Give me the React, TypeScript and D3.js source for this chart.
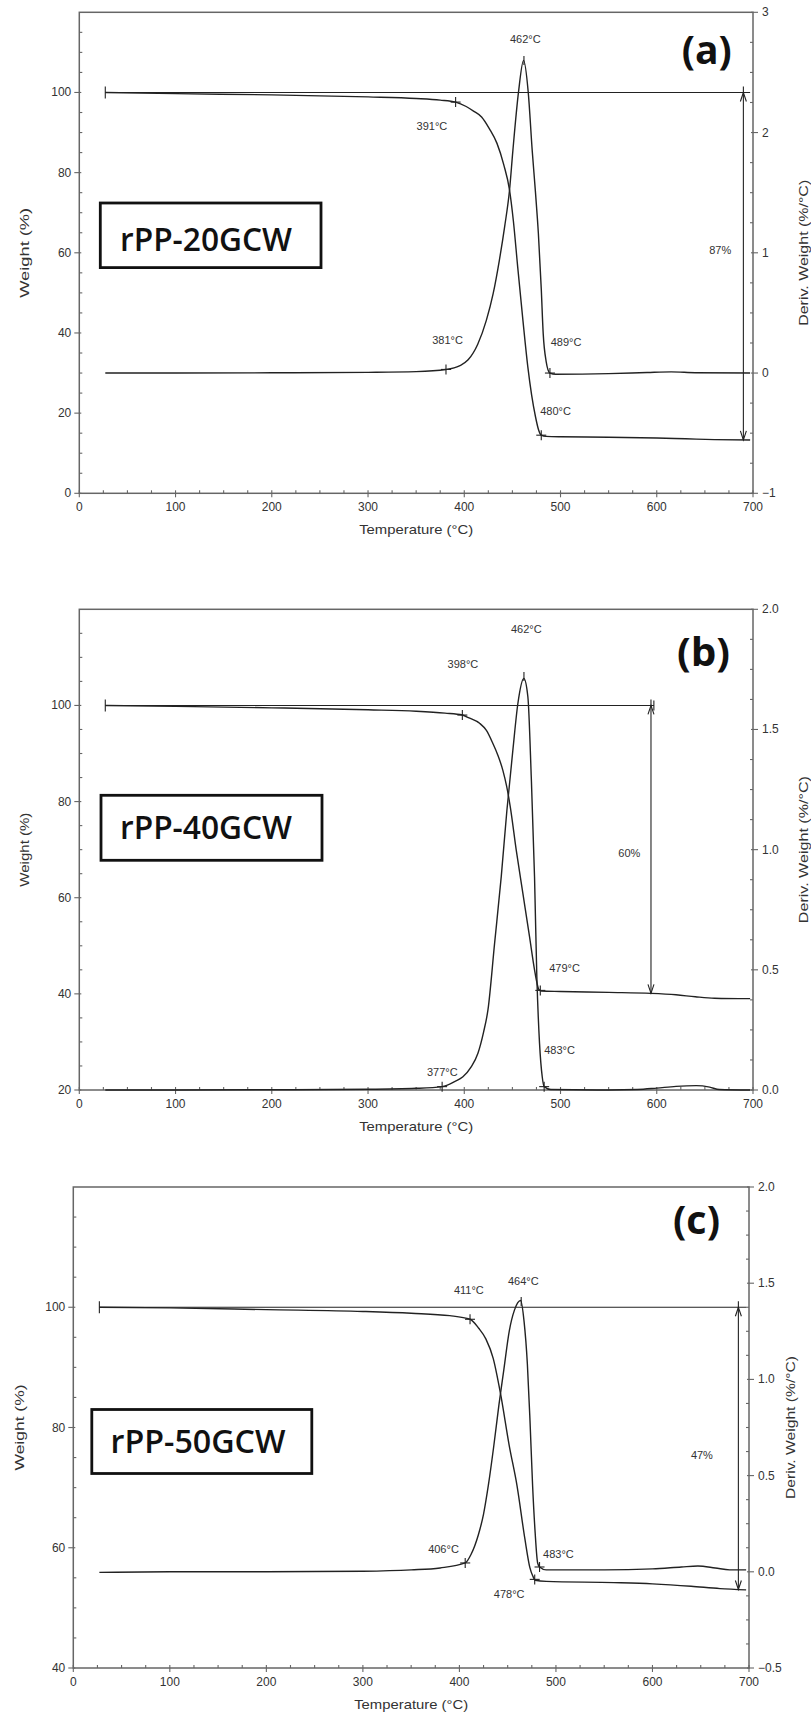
import React from "react";
import * as d3 from "d3";

type Pt = [number, number];

// temperature axis (°C)
const tempTicks = [0, 100, 200, 300, 400, 500, 600, 700];

// ---- (a) rPP-20GCW ----
const tgA: Pt[] = [
  [27, 100], [100, 99.7], [200, 99.4], [300, 98.9], [350, 98.5], [375, 98.1], [391, 97.6],
  [402, 96.5], [410, 95.3], [418, 93.9], [426, 91], [434, 87.3], [441, 82], [447, 75.7],
  [451, 68], [455.5, 56.5], [461, 43], [466, 31.6], [470, 24.5], [474, 19.1], [477, 16],
  [480, 14.5], [485, 14.2], [500, 14.1], [550, 14.0], [600, 13.8], [630, 13.6], [660, 13.4], [697, 13.3],
];
const dtgA: Pt[] = [
  [27, 0], [100, 0], [200, 0.002], [300, 0.006], [350, 0.012], [381, 0.03], [395, 0.06],
  [404, 0.11], [414, 0.24], [423, 0.44], [430, 0.66], [436.5, 0.94], [442, 1.22], [447, 1.52],
  [450.5, 1.85], [456.4, 2.34], [461.6, 2.6], [466.4, 2.34], [470.6, 1.85], [474, 1.5],
  [477, 1.16], [480, 0.7], [482, 0.33], [485, 0.1], [489, 0], [495, -0.01], [550, -0.005],
  [590, 0.005], [615, 0.01], [640, 0.003], [697, 0],
];
const tgMarksA = [391, 480];
const dtgMarksA = [381, 489];
const labelsA: [string, number, number][] = [
  ["462°C", 463.4, 113.3], ["391°C", 366.4, 91.6], ["381°C", 382.6, 38.2],
  ["489°C", 505.7, 37.8], ["480°C", 494.9, 20.6], ["87%", 666, 60.7],
];

// ---- (b) rPP-40GCW ----
const tgB: Pt[] = [
  [27, 100], [100, 99.8], [200, 99.5], [300, 99.1], [350, 98.8], [380, 98.4], [398, 98.0],
  [405, 97.4], [415.9, 96.3], [423, 94.8], [429.7, 92.1], [435, 89.6], [440.1, 86.5],
  [444, 83.2], [447.8, 78.9], [454, 69.9], [460.9, 60.9], [467.8, 51.9], [473, 45],
  [475.5, 42.3], [477.5, 40.9], [480, 40.6], [500, 40.5], [550, 40.3], [594, 40.1],
  [620, 39.8], [640, 39.4], [660, 39.1], [697, 39.0],
];
const dtgB: Pt[] = [
  [27, 0], [100, 0], [200, 0.001], [300, 0.003], [350, 0.007], [377, 0.014], [390, 0.035],
  [398.6, 0.055], [407, 0.095], [414.2, 0.153], [420, 0.24], [424.6, 0.333], [431.5, 0.61],
  [438.4, 0.887], [444.3, 1.164], [450.5, 1.414], [455.7, 1.608], [461.9, 1.712],
  [466.1, 1.635], [469.6, 1.303], [473, 0.887], [475.4, 0.471], [478.2, 0.194], [481, 0.055],
  [483, 0.014], [490, 0.002], [550, 0], [580, 0.002], [600, 0.008], [620, 0.015],
  [641, 0.018], [655, 0.012], [665, 0.002], [697, 0],
];
const tgMarksB = [398, 479];
const dtgMarksB = [377, 483];
const labelsB: [string, number, number][] = [
  ["462°C", 464.4, 115.9], ["398°C", 398.6, 108.6], ["479°C", 504.2, 45.3],
  ["483°C", 499, 28.3], ["377°C", 377.2, 23.8], ["60%", 571.5, 69.2],
];

// ---- (c) rPP-50GCW ----
const tgC: Pt[] = [
  [27, 100], [100, 99.9], [200, 99.6], [300, 99.3], [350, 99.0], [390, 98.6], [411, 98.0],
  [420, 96.5], [427.5, 94.7], [435, 91.5], [442.5, 85.7], [451.6, 77], [459.7, 70.3],
  [467.8, 61.5], [473, 56.7], [476, 55.3], [478.5, 54.6], [490, 54.4], [560, 54.2],
  [600, 54.0], [640, 53.6], [670, 53.2], [697, 53.0],
];
const dtgC: Pt[] = [
  [27, -0.003], [100, 0], [200, 0], [300, 0.003], [350, 0.01], [380, 0.02], [406, 0.046],
  [412, 0.09], [419.5, 0.19], [425, 0.3], [430, 0.45], [435.5, 0.65], [441, 0.87],
  [446, 1.05], [451.6, 1.25], [457, 1.36], [463.4, 1.41], [467, 1.3], [470.4, 1.08],
  [473, 0.8], [475.8, 0.45], [478.5, 0.2], [481, 0.047], [483, 0.025], [490, 0.01],
  [550, 0.01], [600, 0.015], [630, 0.025], [647, 0.03], [665, 0.02], [680, 0.01], [697, 0.01],
];
const tgMarksC = [411, 478];
const dtgMarksC = [406, 483];
const labelsC: [string, number, number][] = [
  ["411°C", 409.8, 102.8], ["464°C", 466.2, 104.3], ["406°C", 383.5, 59.8],
  ["483°C", 502.6, 58.9], ["478°C", 451.6, 52.3], ["47%", 651.2, 75.5],
];

const sans = "'Liberation Sans', Arial, sans-serif";
const boxFont = "'Open Sans', 'Noto Sans', sans-serif";
const ink = "#222";
const axisInk = "#666";

const interp = (pts: Pt[], t: number) => {
  for (let i = 1; i < pts.length; i++) {
    if (t <= pts[i][0]) {
      const [x0, y0] = pts[i - 1];
      const [x1, y1] = pts[i];
      return y0 + ((t - x0) / (x1 - x0)) * (y1 - y0);
    }
  }
  return pts[pts.length - 1][1];
};

const panels = [
  {
    id: "a", name: "rPP-20GCW", letter: "(a)",
    tg: tgA, dtg: dtgA, tgMarks: tgMarksA, dtgMarks: dtgMarksA, peak: 462, labels: labelsA,
    left: [0, 120], leftTicks: [0, 20, 40, 60, 80, 100],
    right: [-1, 3], rightStep: 1, rightFmt: d3.format("d"),
    lineEnd: 697, arrowT: 690, endTick: false,
    frame: { x0: 79.3, x1: 753, top: 12.3, bottom: 493.3 },
    box: { x: 100.3, y: 203, w: 220.7, h: 64.6, tx: 120, ty: 251, tl: 172 },
    let: { x: 681.7, y: 64, w: 50 },
    titles: { wx: 24, wl: 90, dx: 803, dl: 146 },
  },
  {
    id: "b", name: "rPP-40GCW", letter: "(b)",
    tg: tgB, dtg: dtgB, tgMarks: tgMarksB, dtgMarks: dtgMarksB, peak: 462, labels: labelsB,
    left: [20, 120], leftTicks: [20, 40, 60, 80, 100],
    right: [0, 2], rightStep: 0.5, rightFmt: d3.format(".1f"),
    lineEnd: 597, arrowT: 594, endTick: true,
    frame: { x0: 79.3, x1: 753, top: 609.3, bottom: 1090 },
    box: { x: 101, y: 795.3, w: 221, h: 65, tx: 120, ty: 839, tl: 172 },
    let: { x: 677, y: 665.5, w: 53 },
    titles: { wx: 24, wl: 74, dx: 803, dl: 147 },
  },
  {
    id: "c", name: "rPP-50GCW", letter: "(c)",
    tg: tgC, dtg: dtgC, tgMarks: tgMarksC, dtgMarks: dtgMarksC, peak: 464, labels: labelsC,
    left: [40, 120], leftTicks: [40, 60, 80, 100],
    right: [-0.5, 2], rightStep: 0.5, rightFmt: d3.format(".1f"),
    lineEnd: 697, arrowT: 689, endTick: false,
    frame: { x0: 73.3, x1: 749, top: 1187, bottom: 1668 },
    box: { x: 91.8, y: 1409.5, w: 220, h: 64, tx: 110.5, ty: 1453, tl: 175 },
    let: { x: 673, y: 1234, w: 47 },
    titles: { wx: 19, wl: 86, dx: 790, dl: 143 },
  },
];

function Plus({ x, y, s = 5 }: { x: number; y: number; s?: number }) {
  return (
    <g stroke={ink} strokeWidth={1.1}>
      <line x1={x - s} x2={x + s} y1={y} y2={y} />
      <line x1={x} x2={x} y1={y - s} y2={y + s} />
    </g>
  );
}

function Panel({ p }: { p: (typeof panels)[number] }) {
  const f = p.frame;
  const x = d3.scaleLinear().domain([0, 700]).range([f.x0, f.x1]);
  const yL = d3.scaleLinear().domain(p.left).range([f.bottom, f.top]);
  const yR = d3.scaleLinear().domain(p.right).range([f.bottom, f.top]);
  const tgLine = d3.line<Pt>().x((d) => x(d[0])).y((d) => yL(d[1])).curve(d3.curveMonotoneX);
  const dtgLine = d3.line<Pt>().x((d) => x(d[0])).y((d) => yR(d[1])).curve(d3.curveMonotoneX);

  const minorX = d3.range(0, 701, 25).filter((v) => v % 100 !== 0);
  const nL = Math.round((p.left[1] - p.left[0]) / 5);
  const minorL = d3.range(nL + 1).filter((i) => i % 4 !== 0).map((i) => p.left[0] + i * 5);
  const rStep = p.rightStep / 4;
  const nR = Math.round((p.right[1] - p.right[0]) / rStep);
  const allR = d3.range(nR + 1).map((i) => ({ v: p.right[0] + i * rStep, major: i % 4 === 0 }));

  const y100 = yL(100);
  const xa = x(p.arrowT);
  const yEnd = yL(interp(p.tg, p.arrowT));
  const cy = (f.top + f.bottom) / 2;

  return (
    <g>
      {/* frame */}
      <rect x={f.x0} y={f.top} width={f.x1 - f.x0} height={f.bottom - f.top} fill="none" stroke={axisInk} strokeWidth={1.5} />

      {/* ticks */}
      <g stroke={axisInk} strokeWidth={1.1}>
        {tempTicks.map((t) => (
          <line key={"xt" + t} x1={x(t)} x2={x(t)} y1={f.bottom - 3} y2={f.bottom + 4} />
        ))}
        {minorX.map((t) => (
          <line key={"xm" + t} x1={x(t)} x2={x(t)} y1={f.bottom - 3} y2={f.bottom} />
        ))}
        {p.leftTicks.map((v) => (
          <line key={"lt" + v} x1={f.x0 - 5} x2={f.x0 + 2} y1={yL(v)} y2={yL(v)} />
        ))}
        {minorL.map((v) => (
          <line key={"lm" + v} x1={f.x0} x2={f.x0 + 3} y1={yL(v)} y2={yL(v)} />
        ))}
        {allR.map((r) => (
          <line key={"r" + r.v} x1={r.major ? f.x1 - 2 : f.x1 - 3} x2={r.major ? f.x1 + 5 : f.x1} y1={yR(r.v)} y2={yR(r.v)} />
        ))}
      </g>

      <g fontFamily={sans} fontSize={12} fill="#333">
        {tempTicks.map((t) => (
          <text key={"xl" + t} x={x(t)} y={f.bottom + 17.5} textAnchor="middle">{t}</text>
        ))}
        {p.leftTicks.map((v) => (
          <text key={"ll" + v} x={f.x0 - 8} y={yL(v)} textAnchor="end" dominantBaseline="central">{v}</text>
        ))}
        {allR.filter((r) => r.major).map((r) => (
          <text key={"rl" + r.v} x={f.x1 + 9} y={yR(r.v)} dominantBaseline="central">{p.rightFmt(r.v)}</text>
        ))}
      </g>

      {/* axis titles */}
      <g fontFamily={sans} fontSize={13.5} fill="#333">
        <text
          x={(f.x0 + f.x1) / 2}
          y={f.bottom + 41}
          textAnchor="middle"
          textLength={114}
          lengthAdjust="spacingAndGlyphs"
        >
          Temperature (°C)
        </text>
        <text
          transform={`translate(${p.titles.wx},${cy}) rotate(-90)`}
          textAnchor="middle"
          dominantBaseline="central"
          textLength={p.titles.wl}
          lengthAdjust="spacingAndGlyphs"
        >
          Weight (%)
        </text>
        <text
          transform={`translate(${p.titles.dx},${cy}) rotate(-90)`}
          textAnchor="middle"
          dominantBaseline="central"
          textLength={p.titles.dl}
          lengthAdjust="spacingAndGlyphs"
        >
          Deriv. Weight (%/°C)
        </text>
      </g>

      {/* 100 % reference line and mass-loss arrow */}
      <g stroke={ink} strokeWidth={1.1} fill="none">
        <line x1={x(27)} x2={x(p.lineEnd)} y1={y100} y2={y100} />
        <line x1={x(27)} x2={x(27)} y1={y100 - 6} y2={y100 + 6} />
        {p.endTick && <line x1={x(p.lineEnd)} x2={x(p.lineEnd)} y1={y100 - 5} y2={y100 + 5} />}
        <line x1={xa} x2={xa} y1={y100 - 6} y2={yEnd} />
        <path d={`M${xa - 3},${y100 + 9} L${xa},${y100} L${xa + 3},${y100 + 9}`} />
        <path d={`M${xa - 3},${yEnd - 9} L${xa},${yEnd} L${xa + 3},${yEnd - 9}`} />
      </g>

      {/* curves */}
      <path d={tgLine(p.tg) ?? ""} fill="none" stroke={ink} strokeWidth={1.4} />
      <path d={dtgLine(p.dtg) ?? ""} fill="none" stroke={ink} strokeWidth={1.4} />

      {p.tgMarks.map((t) => (
        <Plus key={"tm" + t} x={x(t)} y={yL(interp(p.tg, t))} />
      ))}
      {p.dtgMarks.map((t) => (
        <Plus key={"dm" + t} x={x(t)} y={yR(interp(p.dtg, t))} />
      ))}
      <line
        x1={x(p.peak)} x2={x(p.peak)}
        y1={yR(interp(p.dtg, p.peak)) - 7} y2={yR(interp(p.dtg, p.peak)) + 2}
        stroke={ink} strokeWidth={1.1}
      />

      <g fontFamily={sans} fontSize={11} fill="#333">
        {p.labels.map(([s, t, v]) => (
          <text key={s + t} x={x(t)} y={yL(v)} textAnchor="middle" dominantBaseline="central">{s}</text>
        ))}
      </g>

      {/* sample name box */}
      <rect x={p.box.x} y={p.box.y} width={p.box.w} height={p.box.h} fill="#fff" stroke="#111" strokeWidth={2.8} />
      <text
        x={p.box.tx}
        y={p.box.ty}
        fontFamily={boxFont}
        fontSize={33}
        fontWeight={600}
        fill="#111"
        textLength={p.box.tl}
        lengthAdjust="spacingAndGlyphs"
      >
        {p.name}
      </text>

      {/* panel letter */}
      <text
        x={p.let.x}
        y={p.let.y}
        fontFamily={boxFont}
        fontSize={40}
        fontWeight={700}
        fill="#111"
        textLength={p.let.w}
        lengthAdjust="spacingAndGlyphs"
      >
        {p.letter}
      </text>
    </g>
  );
}

export default function App() {
  return (
    <div style={{ position: "absolute", left: 0, top: 0, width: 811, height: 1716, background: "#fff" }}>
      <svg width={811} height={1716} viewBox="0 0 811 1716" style={{ display: "block" }}>
        <rect width={811} height={1716} fill="#fff" />
        {panels.map((p) => (
          <Panel key={p.id} p={p} />
        ))}
      </svg>
    </div>
  );
}
